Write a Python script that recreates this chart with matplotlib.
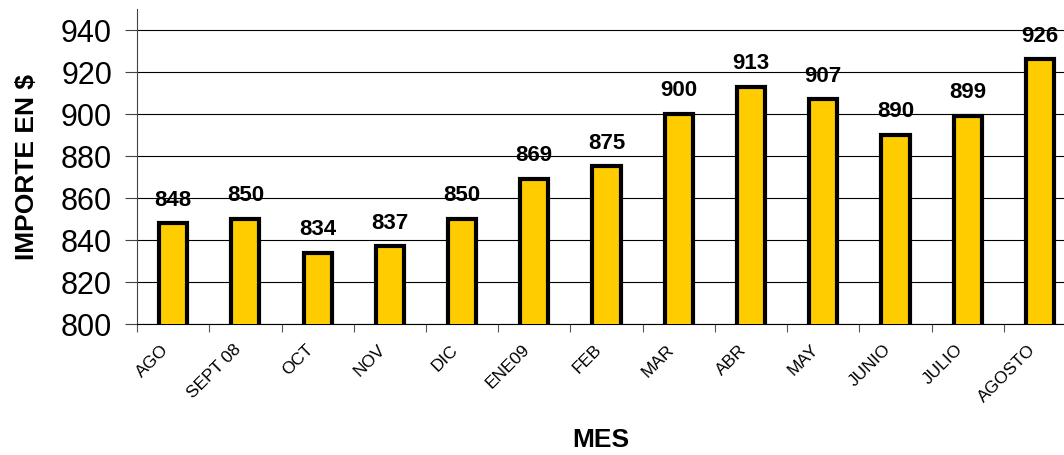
import matplotlib.pyplot as plt
import matplotlib.transforms as mtransforms
import numpy as np

plt.rcParams['font.family'] = ['Liberation Sans', 'DejaVu Sans']

meses = ['AGO', 'SEPT 08', 'OCT', 'NOV', 'DIC', 'ENE09', 'FEB', 'MAR',
         'ABR', 'MAY', 'JUNIO', 'JULIO', 'AGOSTO']
importe = [848, 850, 834, 837, 850, 869, 875, 900, 913, 907, 890, 899, 926]
yticks = [800, 820, 840, 860, 880, 900, 920, 940]

fig = plt.figure(figsize=(10.64, 4.56), dpi=100)
ax = fig.add_axes([0.1288, 0.2873, 0.8825, 0.6908])

x = np.arange(len(meses))
ax.bar(x, importe, width=0.39, color='#FFCC00', edgecolor='black',
       linewidth=3, zorder=3)

for xi, v in zip(x, importe):
    ax.text(xi, v + 6.5, str(v), ha='center', va='bottom', fontsize=16,
            fontweight='bold')

ax.set_xlim(-0.5, len(meses) - 0.5)
ax.set_ylim(800, 950)
ax.set_yticks(yticks)
ax.yaxis.grid(True, color='black', linewidth=0.8, zorder=0)
ax.tick_params(axis='y', labelsize=22, length=9, width=0.8, color='#444444',
               pad=9)

# ticks between categories, labels at centers
ax.set_xticks(np.arange(len(meses) + 1) - 0.5)
ax.set_xticklabels([])
ax.set_xticks(x, minor=True)
ax.set_xticklabels(meses, minor=True, rotation=45, ha='right', va='center',
                   rotation_mode='anchor', fontsize=12.5)
ax.tick_params(axis='x', which='major', length=6, width=0.8, color='#555555')
ax.tick_params(axis='x', which='minor', length=0, pad=16)
shift = mtransforms.ScaledTranslation(-7 / 100, 0, fig.dpi_scale_trans)
for lab in ax.get_xticklabels(minor=True):
    lab.set_transform(lab.get_transform() + shift)

for s in ['top', 'right']:
    ax.spines[s].set_visible(False)
ax.spines['left'].set_linewidth(0.8)
ax.spines['left'].set_color('#444444')
ax.spines['bottom'].set_linewidth(0.8)

ax.set_ylabel('IMPORTE EN $', fontsize=19, fontweight='bold', labelpad=16)
fig.text(0.565, 0.035, 'MES', ha='center', va='center', fontsize=19,
         fontweight='bold')

fig.savefig('out.png', dpi=100)
